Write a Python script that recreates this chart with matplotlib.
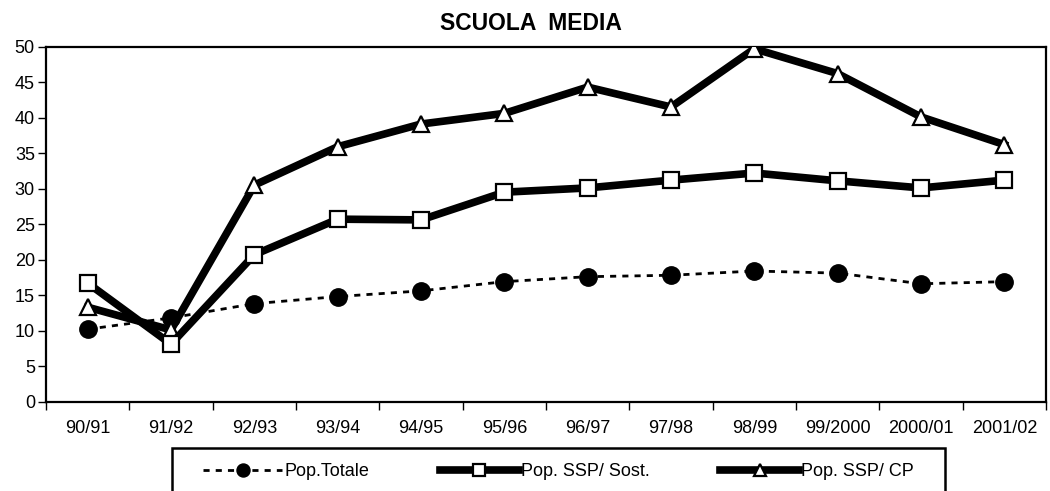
# -*- coding: utf-8 -*-
import numpy as np
import matplotlib
matplotlib.use("Agg")
import matplotlib.pyplot as plt
from matplotlib.patches import Rectangle

plt.rcParams['font.family'] = ['Liberation Sans', 'DejaVu Sans']

anni = ['90/91', '91/92', '92/93', '93/94', '94/95', '95/96', '96/97',
        '97/98', '98/99', '99/2000', '2000/01', '2001/02']
pop_totale = [10.2, 11.8, 13.8, 14.8, 15.6, 16.9, 17.6, 17.8, 18.4, 18.1, 16.6, 16.9]
pop_sost = [16.7, 8.1, 20.7, 25.7, 25.6, 29.5, 30.1, 31.2, 32.2, 31.1, 30.1, 31.2]
pop_cp = [13.3, 10.1, 30.5, 35.9, 39.1, 40.6, 44.3, 41.5, 49.7, 46.2, 40.1, 36.2]

W, H = 1050, 491
fig = plt.figure(figsize=(W / 100, H / 100), dpi=100)
ax = fig.add_axes([0.0438, 0.182, 0.9524, 0.723])

x = np.arange(len(anni))

ax.plot(x, pop_totale, color='black', linewidth=2.0, linestyle=(0, (2.2, 2.2)),
        marker='o', markersize=12.5, markerfacecolor='black', markeredgecolor='black',
        label='Pop.Totale', zorder=3)
ax.plot(x, pop_cp, color='black', linewidth=5.5,
        marker='^', markersize=12, markerfacecolor='white', markeredgecolor='black',
        markeredgewidth=1.6, label='Pop. SSP/ CP', zorder=4)
ax.plot(x, pop_sost, color='black', linewidth=5.5,
        marker='s', markersize=11, markerfacecolor='white', markeredgecolor='black',
        markeredgewidth=1.6, label='Pop. SSP/ Sost.', zorder=5)

ax.set_xlim(-0.5, len(anni) - 0.5)
ax.set_ylim(0, 50)
ax.set_yticks(np.arange(0, 51, 5))

# tacche ai confini delle categorie, etichette al centro
ax.set_xticks(np.arange(len(anni) + 1) - 0.5)
ax.set_xticklabels([])
ax.set_xticks(x, minor=True)
ax.set_xticklabels(anni, minor=True)
ax.tick_params(axis='x', which='major', direction='out', length=6, width=1, color='black')
ax.tick_params(axis='x', which='minor', length=0, pad=13, labelsize=13)
ax.tick_params(axis='y', direction='out', length=6, width=1, labelsize=13, pad=2)

for s in ax.spines.values():
    s.set_linewidth(1.6)
    s.set_color('black')

fig.text(531 / W, 1 - 23 / H, 'SCUOLA  MEDIA', ha='center', va='center',
         fontsize=16.5, fontweight='bold')

# riquadro della legenda (tagliato dal bordo inferiore)
fig.patches.append(Rectangle((172 / W, -0.05), (945 - 172) / W, 0.05 + 1 - 448 / H,
                             transform=fig.transFigure, fill=False,
                             edgecolor='black', linewidth=1.8))

handles, labels = ax.get_legend_handles_labels()
order = [0, 2, 1]
leg = fig.legend([handles[i] for i in order], [labels[i] for i in order],
                 loc='center', bbox_to_anchor=(558.5 / W, 1 - 472 / H),
                 bbox_transform=fig.transFigure, ncol=3, fontsize=13,
                 handlelength=4.4, handletextpad=0.1, columnspacing=3.9,
                 borderpad=0, borderaxespad=0, markerscale=0.75, frameon=False)

plt.savefig('out.png', dpi=100)
